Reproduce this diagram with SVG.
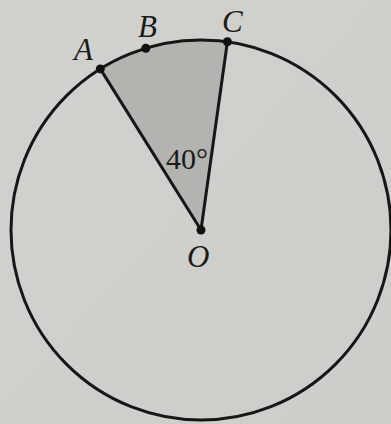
<svg xmlns="http://www.w3.org/2000/svg" width="391" height="424" viewBox="0 0 391 424">
<style>
.ln{stroke:#161616;stroke-width:3;fill:none;stroke-linecap:round}
.pt{fill:#111}
.lbl{font-family:"Liberation Serif",serif;font-style:italic;font-size:31px;fill:#1a1a1a}
.deg{font-family:"Liberation Serif",serif;font-size:30px;fill:#1a1a1a}
</style>
<defs>
<linearGradient id="bg" x1="0" y1="0" x2="1" y2="1">
<stop offset="0" stop-color="#d1d1cd"/>
<stop offset="1" stop-color="#cdcdc9"/>
</linearGradient>
</defs>
<rect width="391" height="424" fill="url(#bg)"/>
<g id="sector">
<path d="M201,230 L100.3,68.9 A190,190 0 0 1 227.4,41.8 Z" fill="#b3b3af"/>
</g>
<g id="circle">
<circle cx="201" cy="230" r="190" class="ln"/>
</g>
<g id="connectors">
<line x1="201" y1="230" x2="100.3" y2="68.9" class="ln"/>
<line x1="201" y1="230" x2="227.4" y2="41.8" class="ln"/>
</g>
<g id="A"><circle cx="100.3" cy="68.9" r="4.5" class="pt"/><text x="74" y="60" class="lbl">A</text></g>
<g id="B"><circle cx="145.8" cy="48.2" r="4.5" class="pt"/><text x="138" y="37" class="lbl">B</text></g>
<g id="C"><circle cx="227.4" cy="41.8" r="4.5" class="pt"/><text x="222" y="32" class="lbl">C</text></g>
<g id="O"><circle cx="201" cy="230" r="4.5" class="pt"/><text x="187" y="267" class="lbl">O</text></g>
<g id="angle"><text x="166" y="169" class="deg">40°</text></g>
</svg>
